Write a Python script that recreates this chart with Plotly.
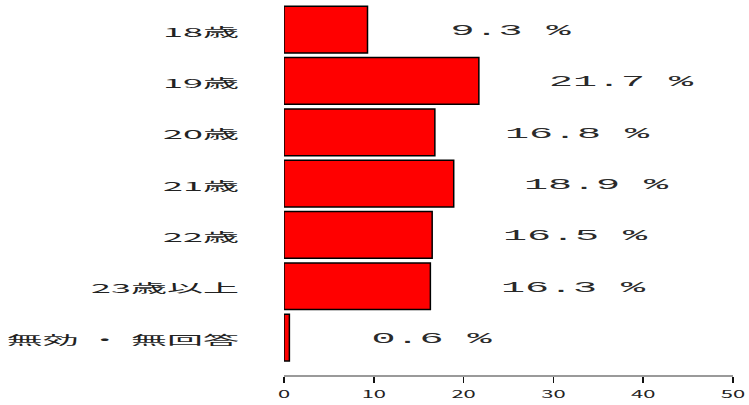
import plotly.graph_objects as go

# Age groups (top to bottom) and their share in percent
categories = ["18歳", "19歳", "20歳", "21歳", "22歳", "23歳以上", "無効 ・ 無回答"]
values = [9.3, 21.7, 16.8, 18.9, 16.5, 16.3, 0.6]
x_ticks = [0, 10, 20, 30, 40, 50]

fig = go.Figure(
    go.Bar(
        x=values,
        y=categories,
        orientation="h",
        marker=dict(color="#FF0000", line=dict(color="#000000", width=1.5)),
        hoverinfo="skip",
    )
)

# value labels to the right of each bar
for cat, v in zip(categories, values):
    fig.add_annotation(
        x=v, y=cat, xref="x", yref="y",
        text=f"{v:.1f} %",
        showarrow=False,
        xanchor="center", xshift=143, yshift=-2,
        font=dict(family="Liberation Mono", size=15, color="#2a2a2a"),
    )

fig.update_layout(
    width=749, height=405,
    margin=dict(l=284, r=16, t=4, b=27),
    paper_bgcolor="white", plot_bgcolor="white",
    bargap=0.09,
    showlegend=False,
    xaxis=dict(
        range=[0, 50], tickvals=x_ticks, ticktext=[str(t) for t in x_ticks],
        showgrid=False, zeroline=False,
        showline=True, linecolor="#9a9a9a", linewidth=1.5,
        ticks="outside", ticklen=6, tickwidth=1.5, tickcolor="#111111",
        ticklabelstandoff=3,
        tickfont=dict(family="Noto Sans CJK JP", size=10, color="#222222"),
    ),
    yaxis=dict(
        type="category", categoryorder="array", categoryarray=categories,
        range=[6.73, -0.5],
        showgrid=False, zeroline=False, showline=False, ticks="",
        ticklabelstandoff=44, ticklabelshift=-3,
        tickfont=dict(family="Noto Sans CJK JP", size=12, color="#222222"),
    ),
)

# widen the lettering horizontally (wide, flat typeface look)
stretch_js = """
var gd = document.getElementById('{plot_id}');
function widen(sel, k) {
  gd.querySelectorAll(sel).forEach(function (t) {
    var w = t.getComputedTextLength();
    t.setAttribute('textLength', (w * k).toFixed(1));
    t.setAttribute('lengthAdjust', 'spacingAndGlyphs');
  });
}
widen('.ytick text', 3.0);
widen('.xtick text', 2.2);
widen('.annotation-text', 2.67);
"""

fig.write_html("out.html", config={"staticPlot": True}, post_script=stretch_js)
